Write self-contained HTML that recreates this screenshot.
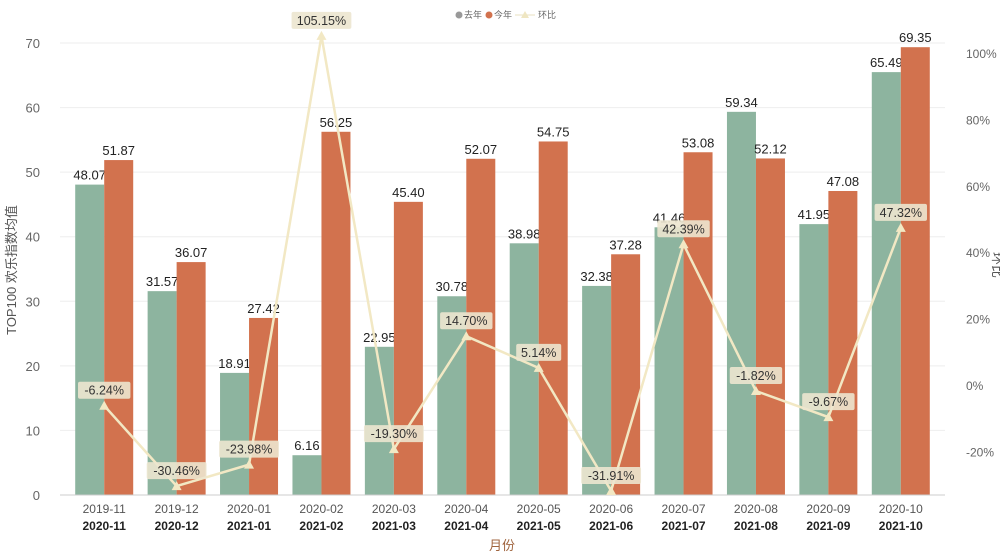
<!DOCTYPE html>
<html><head><meta charset="utf-8"><style>
body{margin:0;background:#fff;}
svg{display:block;font-family:"Liberation Sans","Noto Sans CJK SC",sans-serif;}
</style></head><body>
<svg id="c" width="1000" height="555"></svg>
<script>
const lastYear=["2019-11","2019-12","2020-01","2020-02","2020-03","2020-04","2020-05","2020-06","2020-07","2020-08","2020-09","2020-10"];
const thisYear=["2020-11","2020-12","2021-01","2021-02","2021-03","2021-04","2021-05","2021-06","2021-07","2021-08","2021-09","2021-10"];
const prevVals=[48.07,31.57,18.91,6.16,22.95,30.78,38.98,32.38,41.46,59.34,41.95,65.49];
const curVals=[51.87,36.07,27.42,56.25,45.40,52.07,54.75,37.28,53.08,52.12,47.08,69.35];
const momVals=[-6.24,-30.46,-23.98,105.15,-19.30,14.70,5.14,-31.91,42.39,-1.82,-9.67,47.32];
const leftTicks=[0,10,20,30,40,50,60,70];
const rightTicks=[-20,0,20,40,60,80,100];

const svg=document.getElementById('c');const NS='http://www.w3.org/2000/svg';
function mk(t,a,txt){const e=document.createElementNS(NS,t);for(const k in a)e.setAttribute(k,a[k]);if(txt!==undefined)e.textContent=txt;svg.appendChild(e);return e;}
const x0=68,x1=937,yB=495,yT=43;
const band=(x1-x0)/lastYear.length;
const yL=v=>yB-(v/70)*(yB-yT);
const yR=v=>385-v*3.32;
const xc=i=>x0+band*(i+0.5);
leftTicks.forEach(t=>{const g=mk('line',{x1:60,x2:945,y1:yL(t),y2:yL(t),stroke:'#eeeeee'});

const l=mk('text',{x:40,y:yL(t)+5,'text-anchor':'end','font-size':13,fill:'#666'},t);
});
rightTicks.forEach(t=>{const l=mk('text',{x:966,y:yR(t)+5,'font-size':12,fill:'#666'},t+'%');
});
const bw=29;
prevVals.forEach((v,i)=>{
const r=mk('rect',{x:xc(i)-bw,y:yL(v),width:bw,height:yB-yL(v),fill:'#8db49f'});

const t=mk('text',{x:xc(i)-bw/2,y:yL(v)-5,'text-anchor':'middle','font-size':13,fill:'#222'},v.toFixed(2));
});
curVals.forEach((v,i)=>{
const r=mk('rect',{x:xc(i),y:yL(v),width:bw,height:yB-yL(v),fill:'#d2724e'});

const t=mk('text',{x:xc(i)+bw/2,y:yL(v)-5,'text-anchor':'middle','font-size':13,fill:'#222'},v.toFixed(2));
});
mk('line',{x1:60,x2:945,y1:yB,y2:yB,stroke:'#ccc'});
const pts=momVals.map((v,i)=>xc(i)+','+yR(v)).join(' ');
const pl=mk('polyline',{points:pts,fill:'none',stroke:'#f2e8c4','stroke-width':2.5});

momVals.forEach((v,i)=>{const x=xc(i),y=yR(v);
const m=mk('polygon',{points:`${x},${y-5} ${x-5},${y+4} ${x+5},${y+4}`,fill:'#f2e8c4'});

const s=v.toFixed(2)+'%';const w=s.length*7.4+8;
const b=mk('rect',{x:x-w/2,y:y-24,width:w,height:17,fill:'#ece6cf',opacity:0.9,rx:2});

const t=mk('text',{x:x,y:y-11,'text-anchor':'middle','font-size':12.5,fill:'#333'},s);
});
lastYear.forEach((c,i)=>{
const a=mk('text',{x:xc(i),y:513,'text-anchor':'middle','font-size':12,fill:'#555'},c);

const b=mk('text',{x:xc(i),y:530,'text-anchor':'middle','font-size':12,fill:'#222','font-weight':'bold'},thisYear[i]);
});
</script>
<svg style="position:absolute;left:0;top:0" width="1000" height="555">
<text x="502" y="550" text-anchor="middle" font-size="13" fill="#a0653f" font-family="Liberation Sans,Noto Sans CJK SC,sans-serif">月份</text>
<text transform="translate(16,270) rotate(-90)" text-anchor="middle" font-size="13" fill="#555" font-family="Liberation Sans,Noto Sans CJK SC,sans-serif">TOP100 欢乐指数均值</text>
<text transform="translate(993,265) rotate(90)" text-anchor="middle" font-size="13" fill="#555" font-family="Liberation Sans,Noto Sans CJK SC,sans-serif">环比</text>
<g font-size="9" fill="#666" font-family="Liberation Sans,Noto Sans CJK SC,sans-serif">
<circle cx="459" cy="15" r="3.5" fill="#999"/>
<text x="464" y="18">去年</text>
<circle cx="489" cy="15" r="3.5" fill="#d2724e"/>
<text x="494" y="18">今年</text>
<line x1="515" x2="535" y1="15" y2="15" stroke="#e8e0c0"/>
<polygon points="525,11 521,18 529,18" fill="#efe6c2"/>
<text x="538" y="18">环比</text>
</g>
</svg>
<style>body{position:relative}</style>
</body></html>
